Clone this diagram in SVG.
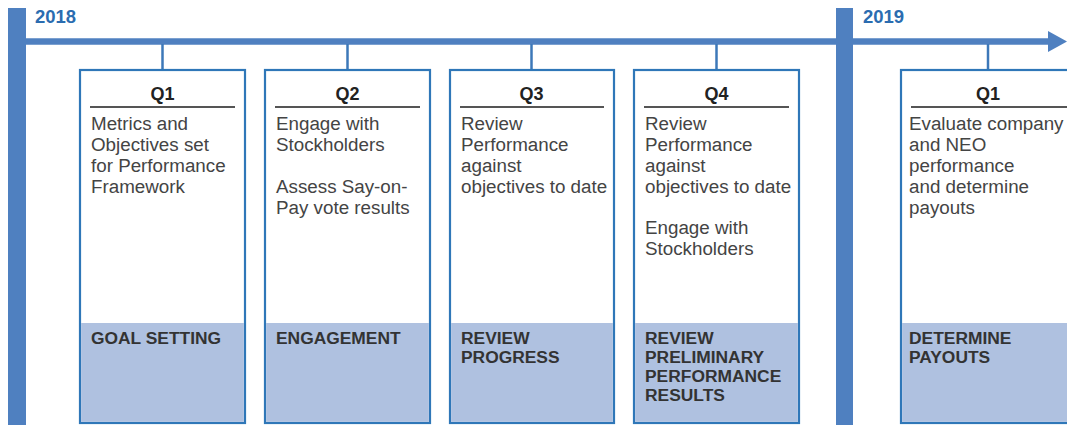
<svg xmlns="http://www.w3.org/2000/svg" width="1067" height="425" viewBox="0 0 1067 425">
<style>
.bar{fill:#4f80c0}
.year{font-family:"Liberation Sans",Arial,sans-serif;font-weight:bold;font-size:18.5px;fill:#2b6cb0}
.box{fill:#fff;stroke:#2f77b8;stroke-width:2.2}
.band{fill:#afc1e0}
.q{font-family:"Liberation Sans",Arial,sans-serif;font-weight:bold;font-size:18px;fill:#222;text-anchor:middle}
.rule{stroke:#555;stroke-width:2}
.body{font-family:"Liberation Sans",Arial,sans-serif;font-size:18.8px;fill:#444}
.lab{font-family:"Liberation Sans",Arial,sans-serif;font-weight:bold;font-size:17.4px;fill:#333}
.stem{stroke:#3d78b9;stroke-width:2.5}
.axis{stroke:#4f80c0;stroke-width:6.5}
</style>
<rect width="1067" height="425" fill="#fff"/>
<g id="timeline">
<rect class="bar" x="8" y="8" width="18" height="417"/>
<rect class="bar" x="836" y="8" width="17" height="417"/>
<text class="year" x="35" y="23">2018</text>
<text class="year" x="863" y="23">2019</text>
</g>
<g id="connectors">
<line class="axis" x1="20" y1="41.5" x2="1052" y2="41.5"/>
<polygon fill="#4f80c0" points="1048,31 1067,41.5 1048,52"/>
<line class="stem" x1="162.5" y1="44" x2="162.5" y2="70"/>
<line class="stem" x1="347.5" y1="44" x2="347.5" y2="70"/>
<line class="stem" x1="531.5" y1="44" x2="531.5" y2="70"/>
<line class="stem" x1="716.5" y1="44" x2="716.5" y2="70"/>
<line class="stem" x1="988" y1="44" x2="988" y2="70"/>
</g>
<g id="q1-2018">
<rect class="box" x="80" y="70" width="165" height="353"/>
<rect class="band" x="81.1" y="323" width="162.8" height="98.9"/>
<text class="q" x="162.5" y="100">Q1</text>
<line class="rule" x1="90" y1="107" x2="235" y2="107"/>
<text class="body"><tspan x="91" y="130">Metrics and</tspan><tspan x="91" y="151">Objectives set</tspan><tspan x="91" y="172">for Performance</tspan><tspan x="91" y="193">Framework</tspan></text>
<text class="lab" x="91" y="344">GOAL SETTING</text>
</g>
<g id="q2-2018">
<rect class="box" x="265" y="70" width="165" height="353"/>
<rect class="band" x="266.1" y="323" width="162.8" height="98.9"/>
<text class="q" x="347.5" y="100">Q2</text>
<line class="rule" x1="275" y1="107" x2="420" y2="107"/>
<text class="body"><tspan x="276" y="130">Engage with</tspan><tspan x="276" y="151">Stockholders</tspan><tspan x="276" y="193">Assess Say-on-</tspan><tspan x="276" y="214">Pay vote results</tspan></text>
<text class="lab" x="276" y="344">ENGAGEMENT</text>
</g>
<g id="q3-2018">
<rect class="box" x="450" y="70" width="164" height="353"/>
<rect class="band" x="451.1" y="323" width="161.8" height="98.9"/>
<text class="q" x="531.5" y="100">Q3</text>
<line class="rule" x1="460" y1="107" x2="604" y2="107"/>
<text class="body"><tspan x="461" y="130">Review</tspan><tspan x="461" y="151">Performance</tspan><tspan x="461" y="172">against</tspan><tspan x="461" y="193">objectives to date</tspan></text>
<text class="lab"><tspan x="461" y="344">REVIEW</tspan><tspan x="461" y="363">PROGRESS</tspan></text>
</g>
<g id="q4-2018">
<rect class="box" x="634" y="70" width="165" height="353"/>
<rect class="band" x="635.1" y="323" width="162.8" height="98.9"/>
<text class="q" x="716.5" y="100">Q4</text>
<line class="rule" x1="644" y1="107" x2="789" y2="107"/>
<text class="body"><tspan x="645" y="130">Review</tspan><tspan x="645" y="151">Performance</tspan><tspan x="645" y="172">against</tspan><tspan x="645" y="193">objectives to date</tspan><tspan x="645" y="234">Engage with</tspan><tspan x="645" y="255">Stockholders</tspan></text>
<text class="lab"><tspan x="645" y="344">REVIEW</tspan><tspan x="645" y="363">PRELIMINARY</tspan><tspan x="645" y="382">PERFORMANCE</tspan><tspan x="645" y="401">RESULTS</tspan></text>
</g>
<g id="q1-2019">
<rect class="box" x="901" y="70" width="175" height="353"/>
<rect class="band" x="902.1" y="323" width="172.8" height="98.9"/>
<text class="q" x="988" y="100">Q1</text>
<line class="rule" x1="911" y1="107" x2="1067" y2="107"/>
<text class="body"><tspan x="909" y="130">Evaluate company</tspan><tspan x="909" y="151">and NEO</tspan><tspan x="909" y="172">performance</tspan><tspan x="909" y="193">and determine</tspan><tspan x="909" y="214">payouts</tspan></text>
<text class="lab"><tspan x="909" y="344">DETERMINE</tspan><tspan x="909" y="363">PAYOUTS</tspan></text>
</g>
</svg>
